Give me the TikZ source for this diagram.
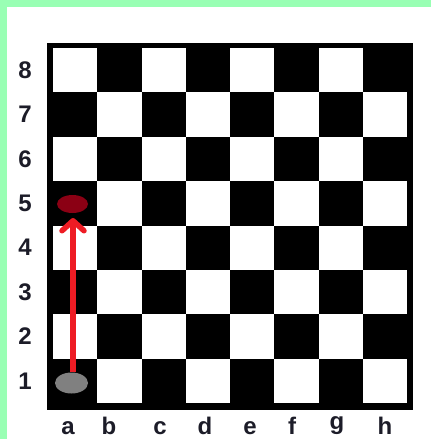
\documentclass[tikz,border=0pt]{standalone}
\usepackage{fontspec}
\setmainfont{Liberation Sans}
\usetikzlibrary{arrows.meta,shapes.geometric}
\definecolor{bandgreen}{RGB}{153,255,180}
\definecolor{labelink}{RGB}{28,28,40}
\definecolor{movered}{RGB}{238,28,36}
\definecolor{targetred}{RGB}{139,0,20}
\definecolor{startgray}{RGB}{128,128,128}
\tikzset{
  lbl/.style={font=\fontsize{24}{24}\selectfont\bfseries, text=labelink, inner sep=0pt},
  flbl/.style={lbl, anchor=base},
  piece/.style={ellipse, draw=none, inner sep=0pt}
}
\begin{document}
\begin{tikzpicture}[x=1pt,y=-1pt]
\useasboundingbox (0,0) rectangle (431,439);
\fill[white] (0,0) rectangle (431,439);
% green bands
\fill[bandgreen] (0,0) rectangle (431,7);
\fill[bandgreen] (0,0) rectangle (7,439);
% board frame
\fill[black] (47,43) rectangle (413,410);
% squares
\foreach \c in {1,...,8}{
  \foreach \r in {1,...,8}{
    \pgfmathsetmacro{\xl}{53+(\c-1)*44.25}
    \pgfmathsetmacro{\yt}{48+(8-\r)*44.375}
    \pgfmathtruncatemacro{\sqparity}{mod(\c+\r,2)}
    \ifnum\sqparity=1
      \fill[white] (\xl,\yt) rectangle ++(44.25,44.375);
    \else
      \fill[black] (\xl,\yt) rectangle ++(44.25,44.375);
    \fi
  }
}
% rank labels
\foreach \r in {1,...,8}{
  \pgfmathsetmacro{\yc}{48+(8-\r)*44.375+22.2}
  \node[lbl] (rank\r) at (25,\yc) {\r};
}
% file labels
\node[flbl] (fa) at (68,434) {a};
\node[flbl] (fb) at (109,434) {b};
\node[flbl] (fc) at (160,434) {c};
\node[flbl] (fd) at (205,434) {d};
\node[flbl] (fe) at (250,434) {e};
\node[flbl] (ff) at (292,434) {f};
\node[flbl] (fg) at (337,429) {g};
\node[flbl] (fh) at (385,434) {h};
% pieces
\node[piece, fill=startgray, minimum width=33pt, minimum height=21pt] (start) at (71.5,383) {};
\node[piece, fill=targetred, minimum width=31pt, minimum height=18pt] (target) at (72.5,204) {};
% move arrow
\coordinate (tip) at (73,218);
\draw[movered, line width=6pt, -{Straight Barb[length=10pt,width=22pt,line width=5.5pt,round]}]
  (start.north -| tip) -- (tip);
\end{tikzpicture}
\end{document}
